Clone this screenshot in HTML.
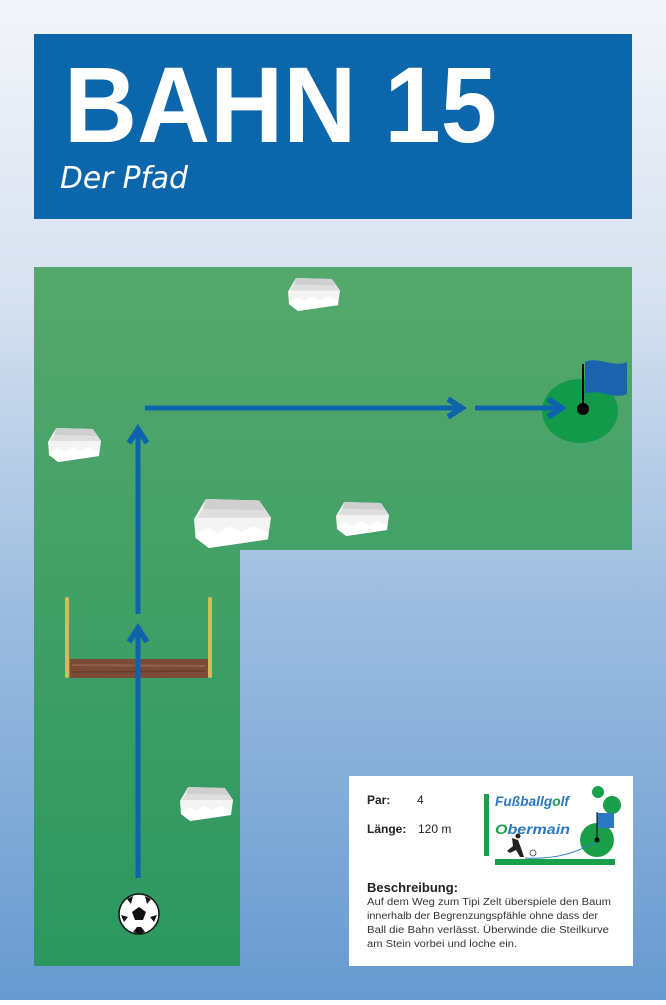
<!DOCTYPE html>
<html><head><meta charset="utf-8"><style>
html,body{margin:0;padding:0}
body{width:666px;height:1000px;overflow:hidden}
</style></head><body>
<svg width="666" height="1000" viewBox="0 0 666 1000" xmlns="http://www.w3.org/2000/svg" font-family="Liberation Sans, sans-serif">
<defs>
<linearGradient id="bg" x1="0" y1="0" x2="0" y2="1">
<stop offset="0" stop-color="#f3f5fa"/><stop offset="0.3" stop-color="#d6e1f0"/><stop offset="0.6" stop-color="#9dbde0"/><stop offset="1" stop-color="#679ad0"/>
</linearGradient>
<linearGradient id="gr" gradientUnits="userSpaceOnUse" x1="0" y1="267" x2="0" y2="966">
<stop offset="0" stop-color="#55a86c"/><stop offset="1" stop-color="#2b9760"/>
</linearGradient>
<g id="rock">
<polygon points="8,0 44,1 52,13 50,28 10,34 1,27 0,14" fill="#f4f4f4"/>
<polygon points="8,0 44,1 48,8 6,7" fill="#cfcfcf"/>
<polygon points="6,7 48,8 52,13 2,13" fill="#dedede"/>
<polygon points="2,24 10,20 16,24 24,19 32,23 40,19 50,23 50,28 10,34 1,27" fill="#ffffff"/>
</g>
</defs>
<rect width="666" height="1000" fill="url(#bg)"/>
<rect x="34" y="34" width="598" height="185" fill="#0c66ab"/>
<text x="64" y="142" font-size="108" font-weight="bold" fill="#fff" textLength="433" lengthAdjust="spacingAndGlyphs">BAHN 15</text>
<text x="60" y="188" font-size="30" font-style="italic" fill="#fff" font-family="DejaVu Sans, sans-serif" textLength="128" lengthAdjust="spacingAndGlyphs">Der Pfad</text>

<path d="M34 267 H632 V550 H240 V966 H34 Z" fill="url(#gr)"/>

<use href="#rock" transform="translate(288,278) scale(1,0.97)"/>
<use href="#rock" transform="translate(48,428) scale(1.02,1)"/>
<use href="#rock" transform="translate(194,499) scale(1.48,1.44)"/>
<use href="#rock" transform="translate(336,502) scale(1.02,1)"/>
<use href="#rock" transform="translate(180,787) scale(1.02,1)"/>

<!-- log -->
<rect x="70" y="659" width="138" height="19" fill="#7b4b37"/>
<line x1="72" y1="665" x2="205" y2="666" stroke="#935f48" stroke-width="2"/>
<line x1="72" y1="672" x2="205" y2="671" stroke="#6a3c2a" stroke-width="1.5"/>
<rect x="65" y="597" width="4" height="81" rx="2" fill="#d8b95a"/>
<rect x="208" y="597" width="4" height="81" rx="2" fill="#d8b95a"/>

<!-- hole -->
<ellipse cx="580" cy="411" rx="38" ry="32" fill="#12994a"/>
<path d="M585 362 C598 356 612 368 627 362 L627 394 C612 400 600 388 585 394 Z" fill="#1b63ad"/>
<line x1="583" y1="364" x2="583" y2="408" stroke="#000" stroke-width="2"/>
<circle cx="583" cy="409" r="6" fill="#000"/>

<!-- arrows -->
<g stroke="#0e63ad" stroke-width="5" fill="none">
<line x1="138" y1="878" x2="138" y2="626"/>
<line x1="138" y1="614" x2="138" y2="427"/>
<line x1="145" y1="408" x2="462" y2="408"/>
<line x1="475" y1="408" x2="562" y2="408"/>
<polyline points="129,443 138,429 147,443" stroke-width="5.5"/>
<polyline points="129,642 138,628 147,642" stroke-width="5.5"/>
<polyline points="448,399 462,408 448,417" stroke-width="5.5"/>
<polyline points="548,399 562,408 548,417" stroke-width="5.5"/>
</g>

<!-- ball -->
<circle cx="139" cy="914" r="20" fill="#fff" stroke="#111" stroke-width="1.5"/>
<polygon points="139,907 146,912 143,920 135,920 132,912" fill="#111"/>
<path d="M127 899 L133 896 L131 904 Z M151 899 L145 896 L147 904 Z M121 915 L124 922 L128 917 Z M157 915 L154 922 L150 917 Z M133 932 L139 934 L145 932 L141 927 L137 927 Z" fill="#111"/>

<!-- info box -->
<rect x="349" y="776" width="284" height="190" fill="#fff"/>
<g font-family="Liberation Sans, sans-serif" fill="#222">
<text x="367" y="804" font-size="12" font-weight="bold">Par:</text>
<text x="417" y="804" font-size="12">4</text>
<text x="367" y="833" font-size="12" font-weight="bold">Länge:</text>
<text x="418" y="833" font-size="12">120 m</text>
<text x="367" y="892" font-size="13" font-weight="bold">Beschreibung:</text>
<text font-size="10" fill="#333">
<tspan x="367" y="905" textLength="244" lengthAdjust="spacingAndGlyphs">Auf dem Weg zum Tipi Zelt überspiele den Baum</tspan>
<tspan x="367" y="919" textLength="231" lengthAdjust="spacingAndGlyphs">innerhalb der Begrenzungspfähle ohne dass der</tspan>
<tspan x="367" y="933" textLength="242" lengthAdjust="spacingAndGlyphs">Ball die Bahn verlässt. Überwinde die Steilkurve</tspan>
<tspan x="367" y="947" textLength="150" lengthAdjust="spacingAndGlyphs">am Stein  vorbei und loche ein.</tspan>
</text>
</g>
<!-- logo -->
<rect x="484" y="794" width="5" height="62" fill="#1aa04a"/>
<rect x="495" y="859" width="120" height="6" fill="#1aa04a"/>
<text x="495" y="806" font-size="14" font-weight="bold" font-style="italic" fill="#2a79c2" textLength="74" lengthAdjust="spacingAndGlyphs">Fußballg<tspan fill="#1aa04a">o</tspan>lf</text>
<text x="495" y="834" font-size="14" font-weight="bold" font-style="italic" fill="#2a79c2" textLength="75" lengthAdjust="spacingAndGlyphs"><tspan fill="#1aa04a">O</tspan>bermain</text>
<circle cx="598" cy="792" r="6" fill="#1aa04a"/>
<circle cx="612" cy="805" r="9" fill="#1aa04a"/>
<circle cx="597" cy="840" r="17" fill="#1aa04a"/>
<rect x="597" y="813" width="17" height="15" fill="#2a79c2"/>
<line x1="597" y1="812" x2="597" y2="840" stroke="#000" stroke-width="1"/>
<circle cx="597" cy="840" r="2.5" fill="#000"/>
<path d="M525 858 C560 860 580 850 595 843" stroke="#2a79c2" stroke-width="1" fill="none"/>
<path d="M512 838 L518 840 L521 848 L524 857 L520 857 L516 850 L510 853 L507 851 L513 846 Z" fill="#222"/>
<circle cx="518" cy="836" r="2.5" fill="#222"/>
<circle cx="533" cy="853" r="3" fill="#fff" stroke="#333" stroke-width="0.8"/>
</svg>
</body></html>
